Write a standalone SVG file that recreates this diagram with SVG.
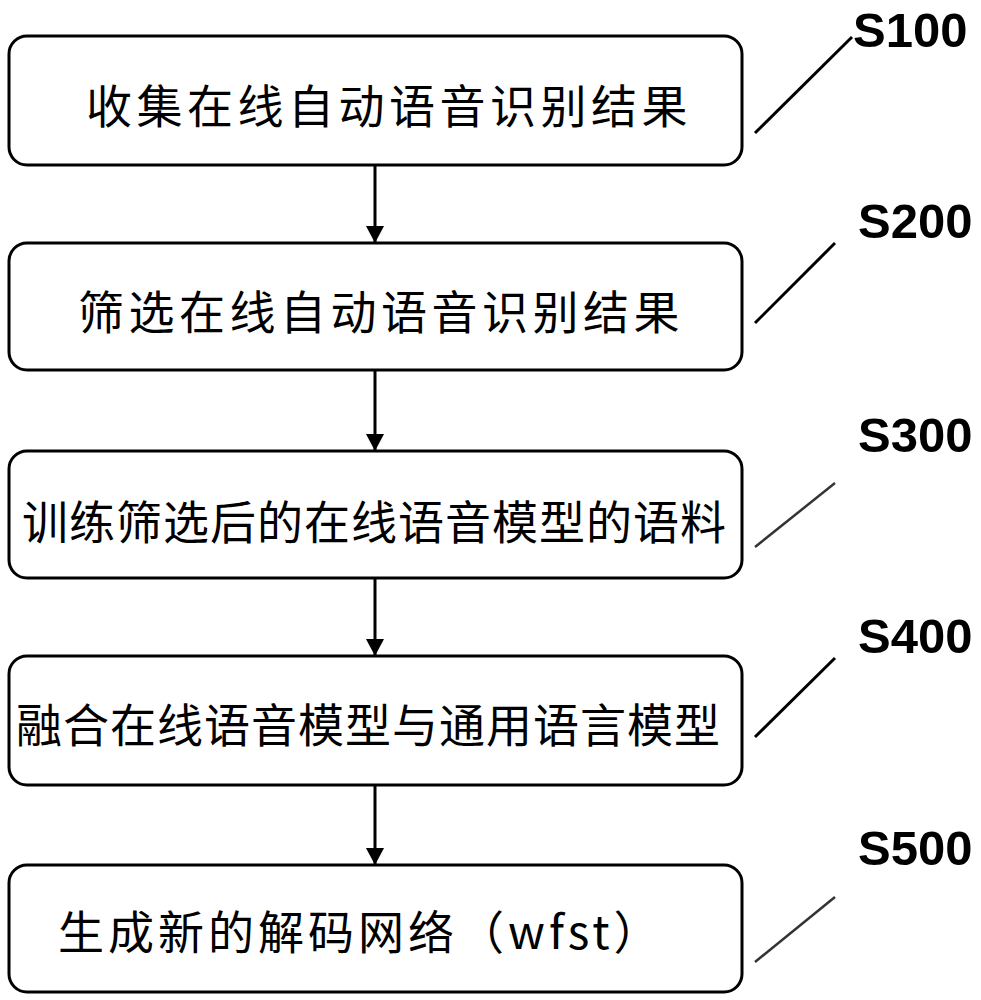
<svg xmlns="http://www.w3.org/2000/svg" width="981" height="1000" viewBox="0 0 981 1000">
<defs>
<style>
.box{fill:#fff;stroke:#000;stroke-width:3}
.t{font-family:"Noto Sans CJK SC","Noto Sans",sans-serif;font-size:46px;fill:#000}
.lbl{font-family:"Liberation Sans",Arial,sans-serif;font-size:49px;font-weight:bold;fill:#000}
.lead{stroke:#000;stroke-width:3;fill:none}
.lead2{stroke:#333;stroke-width:2.5;fill:none}
.conn{stroke:#000;stroke-width:3;fill:none}
</style>
<marker id="ah" markerUnits="userSpaceOnUse" markerWidth="20" markerHeight="18" refX="17" refY="9" orient="auto">
<path d="M0,0 L17,9 L0,18 Z" fill="#000"/>
</marker>
</defs>
<rect width="981" height="1000" fill="#fff"/>
<g id="connectors">
<line class="conn" x1="375" y1="165" x2="375" y2="243" marker-end="url(#ah)"/>
<line class="conn" x1="375" y1="370" x2="375" y2="451" marker-end="url(#ah)"/>
<line class="conn" x1="375" y1="578" x2="375" y2="656" marker-end="url(#ah)"/>
<line class="conn" x1="375" y1="785" x2="375" y2="865" marker-end="url(#ah)"/>
</g>
<g id="s100">
<rect class="box" x="9" y="36" width="733" height="129" rx="18"/>
<text class="t" x="86" y="123" letter-spacing="4.5">收集在线自动语音识别结果</text>
<line class="lead" x1="755" y1="133" x2="852" y2="37"/>
<text class="lbl" x="853" y="47">S100</text>
</g>
<g id="s200">
<rect class="box" x="9" y="243" width="733" height="127" rx="18"/>
<text class="t" x="78" y="329" letter-spacing="4.5">筛选在线自动语音识别结果</text>
<line class="lead" x1="755" y1="323" x2="835" y2="243"/>
<text class="lbl" x="858" y="238">S200</text>
</g>
<g id="s300">
<rect class="box" x="9" y="451" width="733" height="127" rx="18"/>
<text class="t" x="22" y="539" letter-spacing="1">训练筛选后的在线语音模型的语料</text>
<line class="lead2" x1="755" y1="547" x2="835" y2="483"/>
<text class="lbl" x="858" y="452">S300</text>
</g>
<g id="s400">
<rect class="box" x="9" y="656" width="733" height="129" rx="18"/>
<text class="t" x="16" y="742" letter-spacing="1">融合在线语音模型与通用语言模型</text>
<line class="lead" x1="755" y1="737" x2="835" y2="658"/>
<text class="lbl" x="858" y="653">S400</text>
</g>
<g id="s500">
<rect class="box" x="9" y="865" width="733" height="127" rx="18"/>
<text class="t" x="58" y="949" letter-spacing="4">生成新的解码网络（wfst）</text>
<line class="lead2" x1="755" y1="962" x2="835" y2="897"/>
<text class="lbl" x="858" y="865">S500</text>
</g>
</svg>
